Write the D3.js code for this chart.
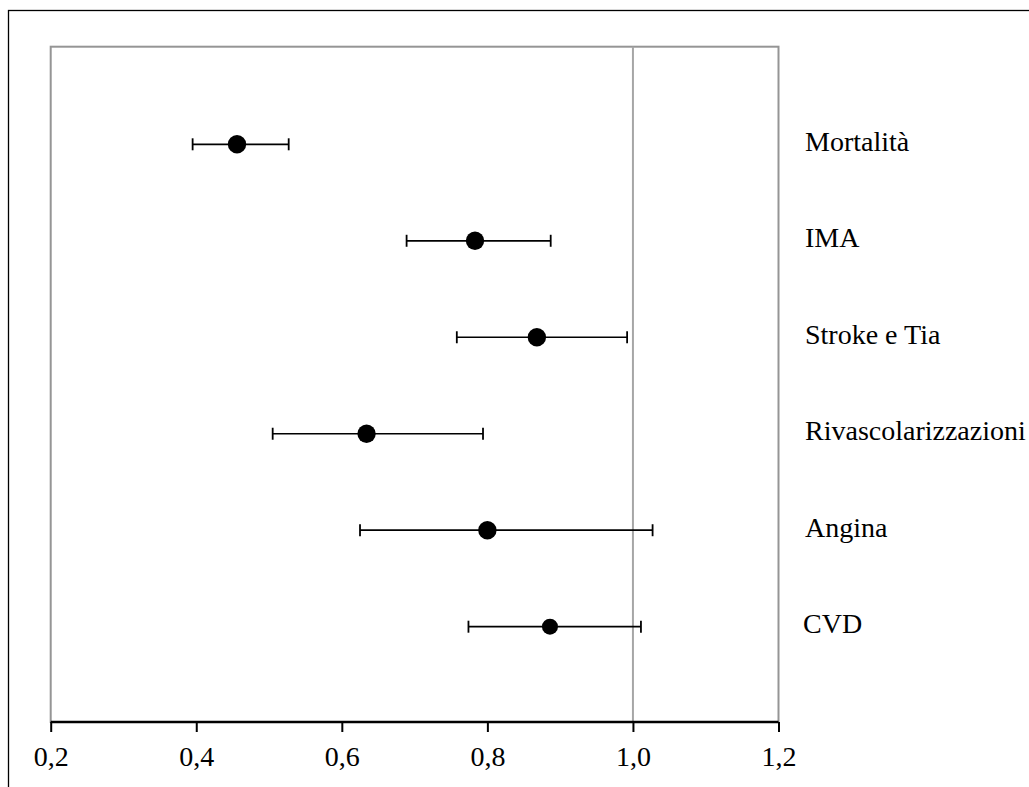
<!DOCTYPE html>
<html>
<head>
<meta charset="utf-8">
<script src="https://cdn.jsdelivr.net/npm/d3@7"></script>
<style>
  body { margin: 0; background: #fff; }
  svg { display: block; }
  text { font-family: "Liberation Serif", "Times New Roman", serif; fill: #000; }
</style>
</head>
<body>
<div id="chart"></div>
<script>
// outcomes, top to bottom
var outcomes = ["Mortalità", "IMA", "Stroke e Tia", "Rivascolarizzazioni", "Angina", "CVD"];
var estimate = [0.456, 0.783, 0.868, 0.634, 0.800, 0.886];
var lower    = [0.395, 0.689, 0.758, 0.505, 0.625, 0.774];
var upper    = [0.527, 0.887, 0.992, 0.794, 1.027, 1.011];
var xTicks   = [0.2, 0.4, 0.6, 0.8, 1.0, 1.2];

var W = 1029, H = 787;

var svg = d3.select('#chart')
  .append('svg')
    .attr('width', W)
    .attr('height', H);

// outer frame (runs off the right / bottom edge)
svg.append('rect')
  .attr('x', 8.5).attr('y', 10.5)
  .attr('width', 1040).attr('height', 800)
  .attr('fill', 'none')
  .attr('stroke', '#000')
  .attr('stroke-width', 1.3);

var plot = { left: 50.7, right: 778.5, top: 46.7, bottom: 722 };

var x = d3.scaleLinear()
  .domain([0.2, 1.2])
  .range([plot.left, plot.right]);

var y = d3.scalePoint()
  .domain(outcomes)
  .range([144.3, 626.7]);

var data = outcomes.map(function(d, i) {
  return { key: d, est: estimate[i], lo: lower[i], hi: upper[i] };
});

///////////////////// plot frame + reference line /////////////////////
svg.append('rect')
  .attr('x', plot.left).attr('y', plot.top)
  .attr('width', plot.right - plot.left)
  .attr('height', plot.bottom - plot.top)
  .attr('fill', 'none')
  .attr('stroke', '#959595')
  .attr('stroke-width', 2);

svg.append('line')
  .attr('x1', x(1.0)).attr('x2', x(1.0))
  .attr('y1', plot.top).attr('y2', plot.bottom)
  .attr('stroke', '#a6a6a6')
  .attr('stroke-width', 2);

///////////////////// x axis /////////////////////
var xAxis = d3.axisBottom(x)
  .tickValues(xTicks)
  .tickSize(10)
  .tickPadding(14)
  .tickFormat(function(d) { return d3.format('.1f')(d).replace('.', ','); });

var gx = svg.append('g')
  .attr('transform', 'translate(0,' + plot.bottom + ')')
  .call(xAxis);

gx.select('.domain')
  .attr('d', 'M' + plot.left + ',0H' + plot.right)
  .attr('stroke', '#000')
  .attr('stroke-width', 2.6);

gx.selectAll('.tick line')
  .attr('stroke', '#000')
  .attr('stroke-width', 2);

gx.selectAll('.tick text')
  .attr('font-family', '"Liberation Serif", "Times New Roman", serif')
  .attr('font-size', 28)
  .attr('fill', '#000');

///////////////////// error bars /////////////////////
var rows = svg.selectAll('.row')
  .data(data)
  .enter()
  .append('g')
  .attr('class', 'row')
  .attr('transform', function(d) { return 'translate(0,' + y(d.key) + ')'; });

rows.append('line')
  .attr('x1', function(d) { return x(d.lo); })
  .attr('x2', function(d) { return x(d.hi); })
  .attr('stroke', '#000')
  .attr('stroke-width', 1.7);

rows.append('line')
  .attr('x1', function(d) { return x(d.lo); })
  .attr('x2', function(d) { return x(d.lo); })
  .attr('y1', -6).attr('y2', 6)
  .attr('stroke', '#000')
  .attr('stroke-width', 1.8);

rows.append('line')
  .attr('x1', function(d) { return x(d.hi); })
  .attr('x2', function(d) { return x(d.hi); })
  .attr('y1', -6).attr('y2', 6)
  .attr('stroke', '#000')
  .attr('stroke-width', 1.8);

rows.append('circle')
  .attr('cx', function(d) { return x(d.est); })
  .attr('cy', 0)
  .attr('r', function(d) { return d.key === 'CVD' ? 8 : 9.2; })
  .attr('fill', '#000');

///////////////////// labels /////////////////////
rows.append('text')
  .attr('x', function(d) { return d.key === 'CVD' ? 803 : 805; })
  .attr('y', 6.5)
  .attr('font-size', 28)
  .text(function(d) { return d.key; });
</script>
</body>
</html>
